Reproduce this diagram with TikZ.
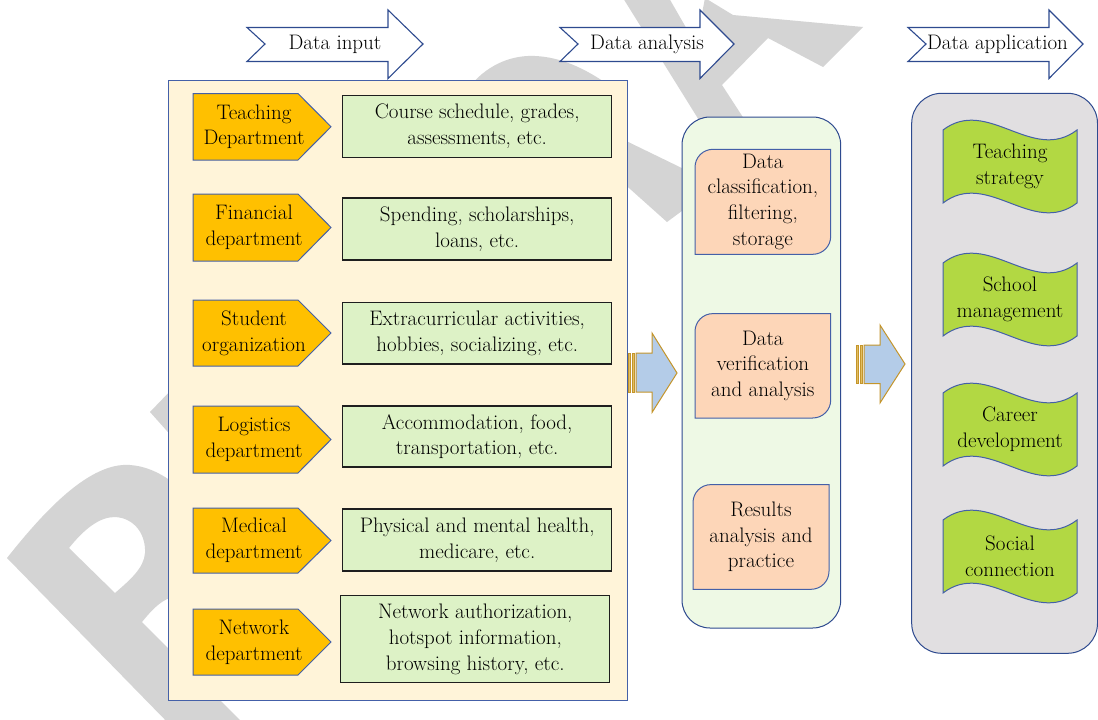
\documentclass[tikz,border=0pt]{standalone}
\definecolor{wmgrey}{HTML}{D4D4D4}
\definecolor{hdrblue}{HTML}{2E4A8F}
\definecolor{edgeblue}{HTML}{4460A8}
\definecolor{creambg}{HTML}{FFF4D9}
\definecolor{deptorange}{HTML}{FFC000}
\definecolor{infogreen}{HTML}{DDF2C6}
\definecolor{infoedge}{HTML}{1E1E1E}
\definecolor{mintbg}{HTML}{EEF9E5}
\definecolor{peach}{HTML}{FDD6B8}
\definecolor{greybg}{HTML}{E1DFE1}
\definecolor{lime}{HTML}{B2D843}
\definecolor{flowblue}{HTML}{B4CCE8}
\definecolor{flowgold}{HTML}{C4952B}
\definecolor{flowgoldlight}{HTML}{E2BE62}

% header arrow: #1 tail x, #2 head x, #3 tip x
\newcommand\phasearrow[3]{%
  \draw[hdr] (#1,27.5) -- (#2,27.5) -- (#2,10) -- (#3,44) -- (#2,78.5)
    -- (#2,61.5) -- (#1,61.5) -- (#1+18,44) -- cycle;}
% department pentagon: #1 name, #2 top, #3 bottom, #4 text
\newcommand\deptbox[4]{%
  \draw[dept] (193,#2) -- (298,#2) -- (331,{(#2+#3)/2}) -- (298,#3) -- (193,#3) -- cycle;
  \node[txt] (#1) at (254,{(#2+#3)/2}) {#4};}
% processing step with two rounded corners: #1 name, #2 L, #3 T, #4 R, #5 B, #6 text
\newcommand\procbox[6]{%
  \draw[proc] (#2,#5) -- (#2,#3+18) .. controls (#2,#3+8) and (#2+8,#3) .. (#2+18,#3)
    -- (#4,#3) -- (#4,#5-18) .. controls (#4,#5-8) and (#4-8,#5) .. (#4-18,#5) -- cycle;
  \node[txt] (#1) at ({(#2+#4)/2},{(#3+#5)/2}) {#6};}
% wavy application banner: #1 name, #2 top, #3 text
\newcommand\appwave[3]{%
  \draw[app] (943,#2) .. controls (987.6,#2-34) and (1032.4,#2+34) .. (1077,#2)
    -- (1077,#2+73) .. controls (1032.4,#2+107) and (987.6,#2+39) .. (943,#2+73) -- cycle;
  \node[txt] (#1) at (1010,#2+36.5) {#3};}

\begin{document}
\begin{tikzpicture}[x=1pt,y=-1pt,
  txt/.style={font=\fontsize{21}{25.7}\selectfont, align=center, inner sep=0pt},
  hdr/.style={draw=hdrblue, fill=white, line width=1.1pt, line join=miter},
  dept/.style={draw=edgeblue, fill=deptorange, line width=1pt},
  info/.style={txt, draw=infoedge, fill=infogreen, line width=1.3pt, minimum width=269pt},
  proc/.style={draw=edgeblue, fill=peach, line width=1pt},
  app/.style={draw=edgeblue, fill=lime, line width=1pt},
  flow/.style={draw=flowgold, fill=flowblue, line width=1pt, line join=miter},
  stripe/.style={draw=flowgold, fill=flowgoldlight, line width=0.8pt},
  wm/.style={fill=wmgrey, draw=none}]
\useasboundingbox (0,0) rectangle (1098,720);
\fill[white] (0,0) rectangle (1098,720);

% background lettering
\fill[wm, even odd rule]
  (7,558) .. controls (45,510) and (90,462) .. (130,465)
  .. controls (160,467) and (185,490) .. (200,510) -- (200,590) -- (170,598)
  .. controls (160,601) and (150,612) .. (142,622) -- (250,730) -- (175,730) -- cycle
  (69,548) .. controls (85,528) and (100,517) .. (115,517)
  .. controls (135,518) and (146,535) .. (145,553)
  .. controls (144,568) and (130,580) .. (115,593) -- cycle;
\fill[wm] (150,412) -- (175,386) -- (175,440) -- cycle;
\fill[wm] (470,86) .. controls (490,62) and (515,55) .. (535,56)
  .. controls (560,57) and (585,68) .. (610,86) -- cycle;
\fill[wm] (620,138) -- (690,172) -- (690,205) -- (667,222) -- (620,180) -- cycle;
\fill[wm] (623,-2) -- (669,-2) -- (696,45) -- (705,-2) -- (733,15) -- (863,27)
  -- (823,67) -- (768,38) -- (722,85) -- (748,125) -- (702,125) -- cycle;

% stage headers
\phasearrow{247}{388}{423}
\node[txt] (hin) at (335,44) {Data input};
\phasearrow{560}{700}{734}
\node[txt] (han) at (647,44) {Data analysis};
\phasearrow{908}{1049}{1083}
\node[txt] (hap) at (997.5,44) {Data application};

% panels
\node[draw=edgeblue, fill=creambg, line width=1pt, minimum width=459pt, minimum height=620pt,
  inner sep=0pt] (inpanel) at (397.5,390) {};
\node[draw=hdrblue, fill=mintbg, line width=1pt, rounded corners=28pt, minimum width=158.7pt,
  minimum height=511pt, inner sep=0pt] (anpanel) at (761.35,372.5) {};
\node[draw=hdrblue, fill=greybg, line width=1pt, rounded corners=30pt, minimum width=185.8pt,
  minimum height=560pt, inner sep=0pt] (appanel) at (1004.6,373.3) {};

% data sources
\deptbox{d1}{93.5}{160}{Teaching\\Department}
\deptbox{d2}{194}{261}{Financial\\department}
\deptbox{d3}{300}{366}{Student\\organization}
\deptbox{d4}{406}{473}{Logistics\\department}
\deptbox{d5}{508}{573}{Medical\\department}
\deptbox{d6}{609}{675}{Network\\department}

\node[info, minimum height=61.6pt] (i1) at (477.2,126.5) {Course schedule, grades,\\assessments, etc.};
\node[info, minimum height=62pt] (i2) at (477.2,229) {Spending, scholarships,\\loans, etc.};
\node[info, minimum height=61.3pt] (i3) at (477.2,333.3) {Extracurricular activities,\\hobbies, socializing, etc.};
\node[info, minimum height=61pt] (i4) at (477.2,436.5) {Accommodation, food,\\transportation, etc.};
\node[info, minimum height=62pt] (i5) at (477.2,540) {Physical and mental health,\\medicare, etc.};
\node[info, minimum height=87pt] (i6) at (475.3,639.2) {Network authorization,\\hotspot information,\\browsing history, etc.};

% analysis steps
\procbox{p1}{695}{149.3}{830.7}{254.3}{Data\\classification,\\filtering,\\storage}
\procbox{p2}{695}{313.6}{830.7}{418}{Data\\verification\\and analysis}
\procbox{p3}{693}{484.6}{829}{589.3}{Results\\analysis and\\practice}

% applications
\appwave{a1}{130}{Teaching\\strategy}
\appwave{a2}{263}{School\\management}
\appwave{a3}{393}{Career\\development}
\appwave{a4}{520}{Social\\connection}

% striped block arrows between the panels
\draw[stripe] (628,353) rectangle (630.8,392);
\draw[stripe] (632.4,353) rectangle (634.8,392);
\draw[flow] (636,353) -- (652,353) -- (652,333) -- (677,373) -- (652,412.5) -- (652,392) -- (636,392) -- cycle;
\draw[stripe] (856,345) rectangle (858.8,383.5);
\draw[stripe] (860.4,345) rectangle (862.8,383.5);
\draw[flow] (864,345) -- (880,345) -- (880,325) -- (905,364) -- (880,403) -- (880,383.5) -- (864,383.5) -- cycle;
\end{tikzpicture}
\end{document}
